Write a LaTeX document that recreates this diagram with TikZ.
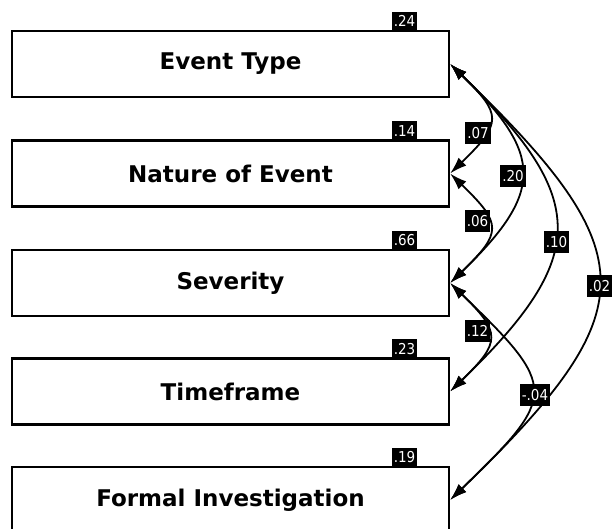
\documentclass[tikz,border=0pt]{standalone}
\usepackage{fontspec}
\setmainfont{DejaVu Sans}
\newfontfamily\numfont{DejaVu Sans}[FakeStretch=0.9]
\usetikzlibrary{arrows.meta}
\begin{document}
\begin{tikzpicture}[x=1pt,y=1pt,
  var/.style={draw=black, line width=2.2pt, minimum width=437pt, minimum height=66pt,
    inner sep=0pt, font=\fontsize{23}{27}\selectfont\bfseries},
  rsq/.style={fill=black, text=white, inner xsep=2pt, inner ysep=0pt,
    minimum height=19pt, font=\numfont\fontsize{15}{17}\selectfont, anchor=south},
  cl/.style={fill=black, text=white, inner xsep=2pt, inner ysep=0pt,
    minimum height=22pt, font=\numfont\fontsize{15}{17}\selectfont},
  tip/.style={Latex[length=17pt,width=11pt]},
  cov/.style={line width=1.8pt, {Latex[length=17pt,width=11pt]}-{Latex[length=17pt,width=11pt]}}
]
\useasboundingbox (0,0) rectangle (614,-529);

% observed variables
\node[var] (et)  at (230.5,-64)    {Event Type};
\node[var] (nat) at (230.5,-173.5) {Nature of Event};
\node[var] (sev) at (230.5,-283)   {Severity};
\node[var] (tf)  at (230.5,-391.5) {Timeframe};
\node[var] (fi)  at (230.5,-500)   {Formal Investigation};

% squared multiple correlations
\node[rsq] (r1) at ([xshift=-45.5pt,yshift=-1.1pt]et.north east)  {.24};
\node[rsq] (r2) at ([xshift=-45.5pt,yshift=-1.1pt]nat.north east) {.14};
\node[rsq] (r3) at ([xshift=-45.5pt,yshift=-1.1pt]sev.north east) {.66};
\node[rsq] (r4) at ([xshift=-45.5pt,yshift=-1.1pt]tf.north east)  {.23};
\node[rsq] (r5) at ([xshift=-45.5pt,yshift=-1.1pt]fi.north east)  {.19};

% correlations
\draw[cov] (et.east)  to[out=-44,in=44,looseness=1.70] (nat.east);
\draw[cov] (et.east)  to[out=-44,in=44,looseness=1.53] (sev.east);
\draw[cov] (et.east)  to[out=-44,in=44,looseness=1.52] (tf.east);
\draw[cov] (et.east)  to[out=-44,in=44,looseness=1.61] (fi.east);
\draw[cov] (nat.east) to[out=-44,in=44,looseness=1.70] (sev.east);
\draw[cov] (sev.east) to[out=-44,in=44,looseness=1.68] (tf.east);
\draw[cov] (sev.east) to[out=-44,in=44,looseness=1.78] (fi.east);

% correlation values
\node[cl] (c1) at (478,-133)   {.07};
\node[cl] (c2) at (513,-176)   {.20};
\node[cl] (c3) at (556.5,-242) {.10};
\node[cl] (c4) at (599.5,-286) {.02};
\node[cl] (c5) at (477.5,-221) {.06};
\node[cl] (c6) at (477.5,-331) {.12};
\node[cl] (c7) at (535,-395.5) {-.04};
\end{tikzpicture}
\end{document}
